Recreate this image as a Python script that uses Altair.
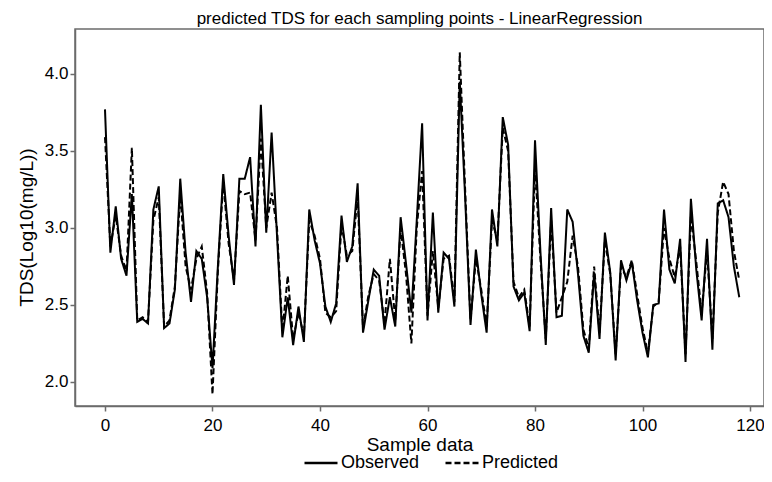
import altair as alt
import pandas as pd

observed = [3.77, 2.84, 3.14, 2.80, 2.69, 3.22, 2.39, 2.41, 2.38, 3.12,
            3.27, 2.35, 2.38, 2.60, 3.32, 2.84, 2.52, 2.85, 2.80, 2.55,
            2.09, 2.75, 3.35, 2.95, 2.63, 3.32, 3.32, 3.46, 2.88, 3.80,
            2.97, 3.62, 2.95, 2.29, 2.55, 2.24, 2.49, 2.26, 3.12, 2.92,
            2.77, 2.49, 2.39, 2.51, 3.08, 2.78, 2.88, 3.29, 2.32, 2.53,
            2.73, 2.69, 2.34, 2.55, 2.36, 3.07, 2.77, 2.45, 3.05, 3.68,
            2.40, 3.10, 2.45, 2.84, 2.80, 2.49, 3.95, 3.20, 2.37, 2.86,
            2.57, 2.32, 3.12, 2.88, 3.72, 3.54, 2.62, 2.53, 2.58, 2.33,
            3.57, 2.85, 2.24, 3.13, 2.42, 2.43, 3.12, 3.04, 2.70, 2.30,
            2.19, 2.71, 2.28, 2.97, 2.71, 2.14, 2.79, 2.66, 2.78, 2.53,
            2.32, 2.16, 2.50, 2.51, 3.12, 2.73, 2.64, 2.93, 2.13, 3.19,
            2.73, 2.40, 2.93, 2.21, 3.16, 3.18, 3.07, 2.75, 2.55]

predicted = [3.59, 2.88, 3.08, 2.82, 2.72, 3.52, 2.40, 2.42, 2.39, 3.05,
             3.20, 2.36, 2.40, 2.62, 3.22, 2.75, 2.60, 2.80, 2.88, 2.58,
             1.92, 2.72, 3.30, 2.90, 2.66, 3.24, 3.22, 3.23, 2.92, 3.58,
             3.00, 3.23, 3.00, 2.33, 2.69, 2.28, 2.45, 2.30, 3.05, 2.95,
             2.80, 2.45, 2.42, 2.46, 3.02, 2.82, 2.85, 3.20, 2.35, 2.56,
             2.70, 2.66, 2.38, 2.80, 2.40, 3.00, 2.70, 2.25, 3.00, 3.37,
             2.43, 2.85, 2.48, 2.80, 2.82, 2.52, 4.14, 3.25, 2.40, 2.80,
             2.60, 2.36, 3.05, 2.92, 3.65, 3.50, 2.65, 2.55, 2.60, 2.36,
             3.40, 2.80, 2.28, 3.05, 2.45, 2.55, 2.65, 2.95, 2.75, 2.34,
             2.22, 2.75, 2.32, 2.92, 2.70, 2.18, 2.75, 2.68, 2.79, 2.57,
             2.35, 2.19, 2.49, 2.52, 3.00, 2.80, 2.68, 2.88, 2.18, 3.08,
             2.78, 2.45, 2.85, 2.28, 3.10, 3.30, 3.22, 2.85, 2.66]

series_names = ["Observed", "Predicted"]
x_ticks = [0, 20, 40, 60, 80, 100, 120]
y_ticks = [2.0, 2.5, 3.0, 3.5, 4.0]

rows = []
for name, vals in zip(series_names, [observed, predicted]):
    for i, v in enumerate(vals):
        rows.append({"idx": i, "val": v, "series": name})
df = pd.DataFrame(rows)

FONT = "Liberation Sans, Arial, sans-serif"
AX = "#6b6b6b"

chart = alt.Chart(df).mark_line(color="black", strokeWidth=2).encode(
    x=alt.X("idx:Q",
            scale=alt.Scale(domain=[-5.58, 122.6], nice=False, zero=False),
            axis=alt.Axis(values=x_ticks, title="Sample data", grid=False,
                          format="d", labelPadding=6, titlePadding=2)),
    y=alt.Y("val:Q",
            scale=alt.Scale(domain=[1.844, 4.292], nice=False, zero=False),
            axis=alt.Axis(values=y_ticks, title="TDS(Log10(mg/L))", grid=False,
                          format=".1f", labelPadding=2, titlePadding=8,
                          titleY=198)),
    strokeDash=alt.StrokeDash(
        "series:N",
        scale=alt.Scale(domain=series_names, range=[[1, 0], [6, 3]]),
        legend=alt.Legend(title=None, orient="none", legendX=228, legendY=416,
                          direction="horizontal", symbolType="stroke",
                          symbolSize=1089, symbolStrokeWidth=2.5,
                          symbolStrokeColor="black", labelOffset=2,
                          columnPadding=20, padding=0,
                          labelFont=FONT, labelFontSize=18, labelColor="black")),
).properties(
    width=689, height=377,
    title=alt.TitleParams("predicted TDS for each sampling points - LinearRegression",
                          font=FONT, fontSize=17, fontWeight="normal",
                          color="black", anchor="middle", offset=1),
    autosize=alt.AutoSizeParams(type="none"),
    padding={"left": 67, "top": 21, "right": 0, "bottom": 68},
).configure_view(
    stroke=AX, strokeWidth=1.5
).configure_axis(
    domainColor=AX, domainWidth=1.5, tickColor=AX, tickWidth=1.5, tickSize=5,
    labelFont=FONT, labelFontSize=17, labelColor="black",
    titleFont=FONT, titleFontSize=19, titleFontWeight="normal", titleColor="black",
)

chart.save("out.html", embed_options={"renderer": "svg", "actions": False})
